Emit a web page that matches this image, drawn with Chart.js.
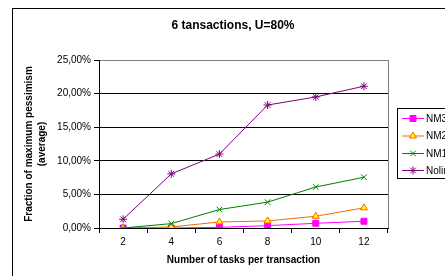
<!DOCTYPE html>
<html>
<head>
<meta charset="utf-8">
<script src="https://cdn.jsdelivr.net/npm/chart.js@4/dist/chart.umd.min.js"></script>
<style>html,body{margin:0;padding:0;background:#fff;overflow:hidden}</style>
</head>
<body>
<canvas id="chart" width="445" height="276"></canvas>
<script>
// values (percent)
const categories = ['2', '4', '6', '8', '10', '12'];
const nm3 = [0, 0, 0.1, 0.35, 0.7, 1.0];
const nm2 = [0, 0.15, 0.9, 1.05, 1.75, 3.0];
const nm1 = [0, 0.65, 2.75, 3.85, 6.1, 7.55];
const nolim = [1.3, 8.05, 11.0, 18.3, 19.5, 21.1];
const seriesNames = ['NM3', 'NM2', 'NM1', 'Nolimit'];
const yMin = 0, yMax = 25, yStep = 5;

const FONT = 'Arial, "Liberation Sans", sans-serif';
Chart.defaults.font.family = FONT;
Chart.defaults.color = '#000';

function pctLabel(v) {
    return v.toFixed(2).replace('.', ',') + '%';
}

// white page, outer frame, plot border and title
const framePlugin = {
    id: 'frame',
    beforeDraw(chart) {
        const c = chart.ctx;
        c.save();
        c.fillStyle = '#fff';
        c.fillRect(0, 0, chart.width, chart.height);
        c.strokeStyle = '#000';
        c.lineWidth = 1;
        c.strokeRect(12.5, 8.5, 600, 400);
        c.restore();
    },
    afterDraw(chart) {
        const c = chart.ctx;
        const a = chart.chartArea;
        c.save();
        c.strokeStyle = '#808080';
        c.lineWidth = 1;
        c.beginPath();
        c.moveTo(Math.round(a.right) + 0.5, a.top);
        c.lineTo(Math.round(a.right) + 0.5, a.bottom);
        c.stroke();
        c.fillStyle = '#000';
        c.font = 'bold 12px ' + FONT;
        c.textAlign = 'center';
        c.textBaseline = 'middle';
        c.fillText('6 tansactions, U=80%', 233, 26);
        c.restore();
    }
};

// legend box on the right (cut by the page edge as in the picture)
const legendPlugin = {
    id: 'sideLegend',
    afterDraw(chart) {
        const c = chart.ctx;
        c.save();
        c.strokeStyle = '#000';
        c.lineWidth = 1;
        c.strokeRect(397.5, 108.5, 80, 70);
        const rows = [118, 135.5, 153, 170];
        chart.data.datasets.forEach((ds, i) => {
            const y = rows[i];
            c.strokeStyle = ds.borderColor;
            c.lineWidth = 1;
            c.beginPath();
            c.moveTo(402, y + 0.5);
            c.lineTo(424, y + 0.5);
            c.stroke();
            c.fillStyle = ds.pointBackgroundColor;
            c.strokeStyle = ds.pointBorderColor;
            Chart.helpers.drawPoint(c, {pointStyle: ds.pointStyle, radius: ds.pointRadius, borderWidth: 1}, 413, y + 0.5);
            c.fillStyle = '#000';
            c.font = '10px ' + FONT;
            c.textAlign = 'left';
            c.textBaseline = 'middle';
            c.fillText(ds.label, 426, y + 1);
        });
        c.restore();
    }
};

const ctx = document.getElementById('chart').getContext('2d');

new Chart(ctx, {
    type: 'line',
    data: {
        labels: categories,
        datasets: [
            {label: seriesNames[0], data: nm3, borderColor: '#ff00ff', pointBackgroundColor: '#ff00ff', pointBorderColor: '#ff00ff', pointStyle: 'rect', pointRadius: 4.2, order: 3},
            {label: seriesNames[1], data: nm2, borderColor: '#ff6600', pointBackgroundColor: '#ffff00', pointBorderColor: '#ff6600', pointStyle: 'triangle', pointRadius: 4, order: 2},
            {label: seriesNames[2], data: nm1, borderColor: '#008000', pointBackgroundColor: '#008000', pointBorderColor: '#008000', pointStyle: 'crossRot', pointRadius: 4, order: 1},
            {label: seriesNames[3], data: nolim, borderColor: '#800080', pointBackgroundColor: '#800080', pointBorderColor: '#800080', pointStyle: 'star', pointRadius: 4, order: 0}
        ].map(d => Object.assign({borderWidth: 1, pointBorderWidth: 1, tension: 0, fill: false}, d))
    },
    options: {
        responsive: false,
        devicePixelRatio: 1,
        animation: false,
        events: [],
        layout: {padding: {left: 0, right: 57, top: 60, bottom: 8}},
        plugins: {legend: {display: false}, title: {display: false}, tooltip: {enabled: false}},
        scales: {
            x: {
                offset: true,
                grid: {offset: true, drawOnChartArea: false, color: '#000', tickLength: 5},
                border: {color: '#000'},
                ticks: {font: {size: 10}, color: '#000', padding: 3},
                title: {display: true, text: 'Number of tasks per transaction', font: {size: 10, weight: 'bold', lineHeight: 1.3}, padding: {top: 0, bottom: 1}},
                afterFit(s) { s.height = 40; }
            },
            y: {
                min: yMin,
                max: yMax,
                grid: {
                    color: c => (c.tick && c.tick.value === yMax ? '#808080' : '#000'),
                    tickColor: '#000',
                    tickLength: 5
                },
                border: {color: '#000'},
                ticks: {stepSize: yStep, font: {size: 10}, color: '#000', padding: 3, callback: v => pctLabel(v)},
                title: {display: true, text: ['Fraction of maximum pessimism', '(average)'], font: {size: 10, weight: 'bold', lineHeight: 1.3}, padding: {top: 23, bottom: 0}},
                afterFit(s) { s.width = 99; }
            }
        }
    },
    plugins: [framePlugin, legendPlugin]
});
</script>
</body>
</html>
